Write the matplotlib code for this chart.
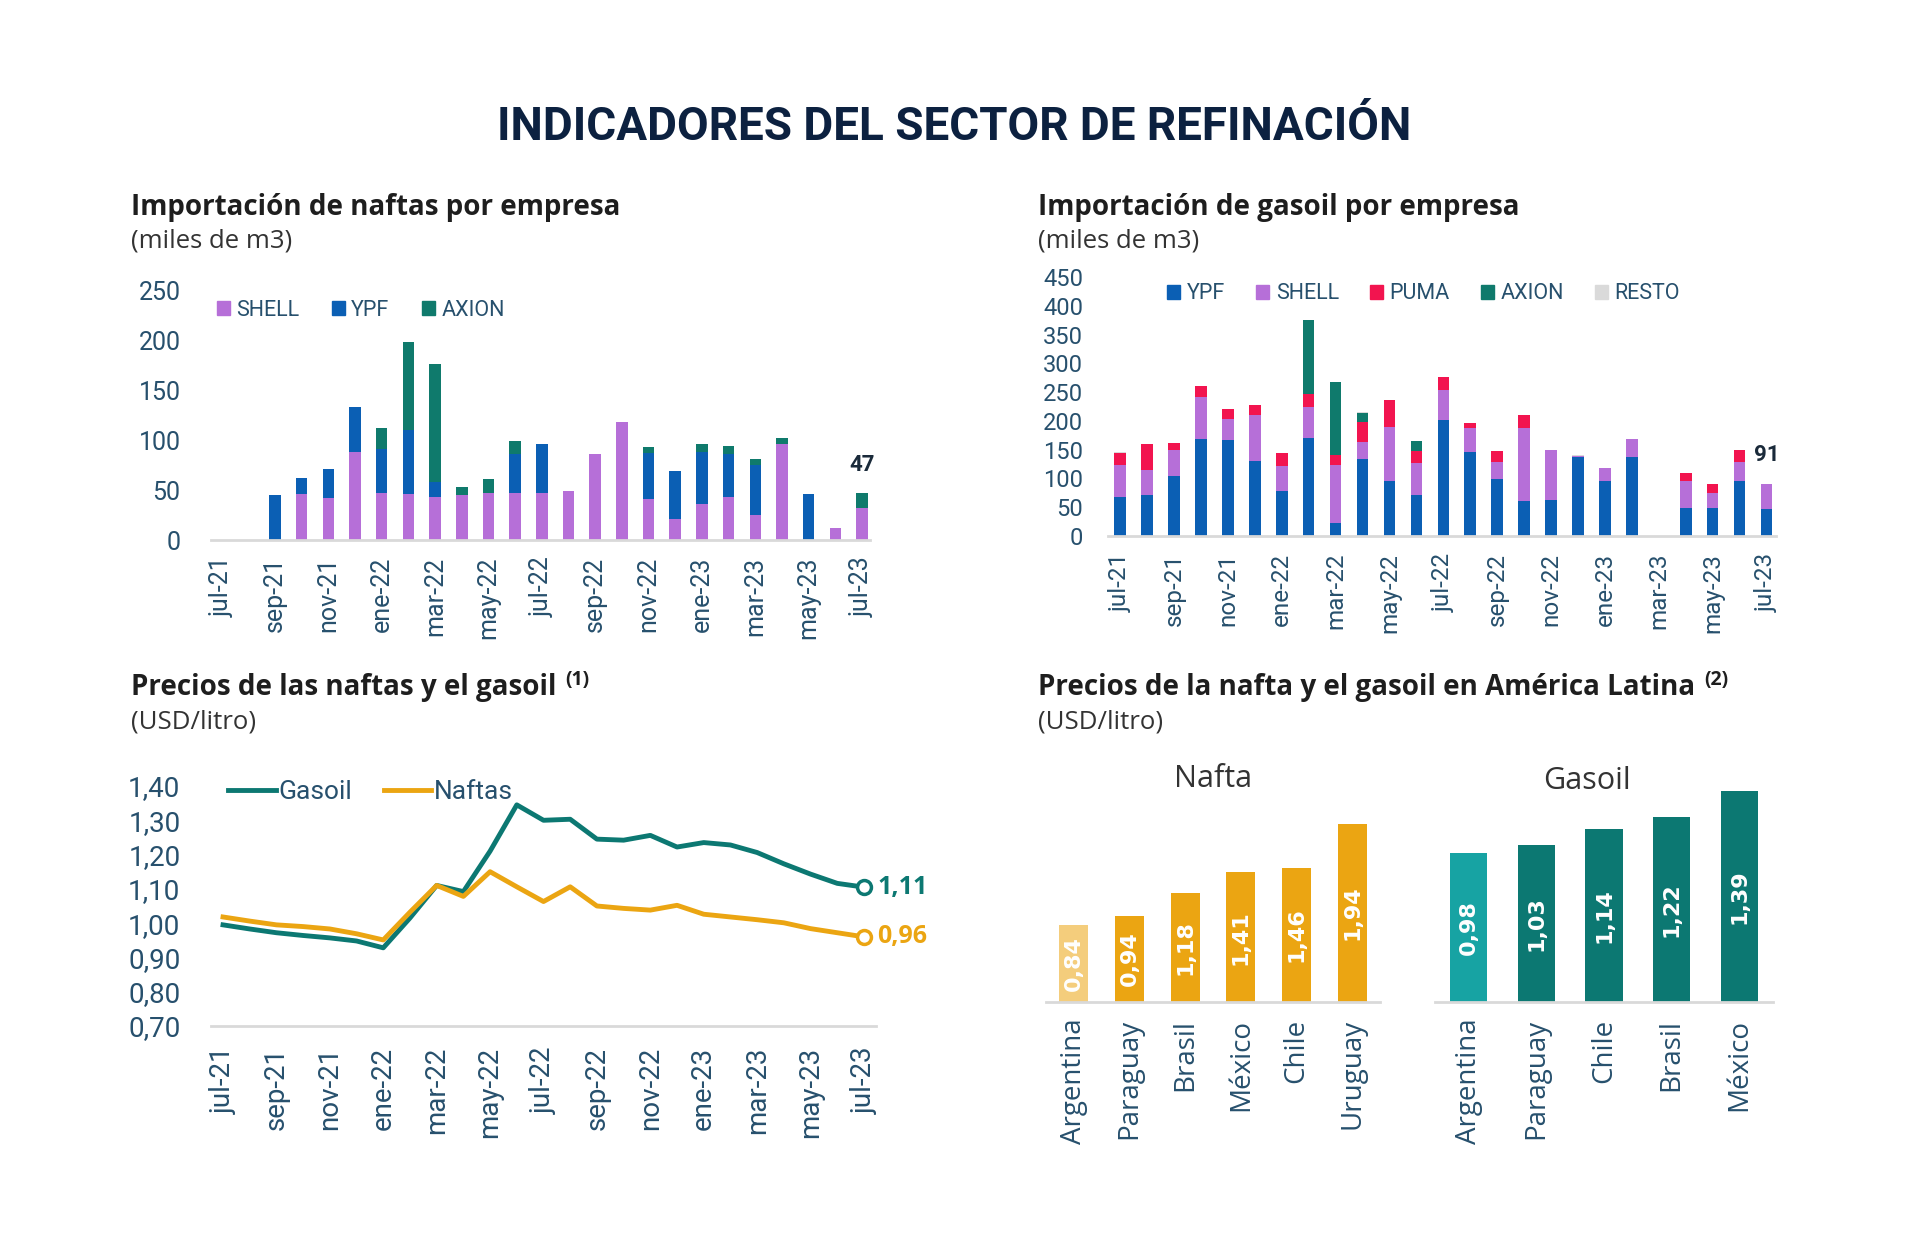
import matplotlib
matplotlib.use("Agg")
import matplotlib.pyplot as plt
from matplotlib.lines import Line2D
from matplotlib.patches import Patch
import numpy as np

# ---------------------------------------------------------------------------
# Datos
# ---------------------------------------------------------------------------
meses = ['jul-21', 'ago-21', 'sep-21', 'oct-21', 'nov-21', 'dic-21', 'ene-22',
         'feb-22', 'mar-22', 'abr-22', 'may-22', 'jun-22', 'jul-22', 'ago-22',
         'sep-22', 'oct-22', 'nov-22', 'dic-22', 'ene-23', 'feb-23', 'mar-23',
         'abr-23', 'may-23', 'jun-23', 'jul-23']

# Importacion de naftas (miles de m3)
naf_shell = [0, 0, 0, 46, 42, 88, 47, 46, 43, 45, 47, 47, 47, 49, 86, 118,
             41, 21, 36, 43, 25, 96, 0, 12, 32]
naf_ypf = [0, 0, 45, 16, 29, 45, 44, 64, 15, 0, 0, 39, 49, 0, 0, 0,
           46, 48, 52, 43, 50, 0, 46, 0, 0]
naf_axion = [0, 0, 0, 0, 0, 0, 21, 88, 118, 8, 14, 13, 0, 0, 0, 0,
             6, 0, 8, 8, 6, 6, 0, 0, 15]

# Importacion de gasoil (miles de m3)
gas_ypf = [67, 72, 105, 169, 167, 131, 78, 170, 23, 134, 95, 72, 201, 146,
           99, 60, 62, 138, 95, 137, 0, 48, 48, 95, 47]
gas_shell = [57, 42, 44, 73, 37, 80, 43, 54, 101, 29, 94, 54, 52, 41, 29,
             128, 87, 1, 23, 31, 0, 47, 27, 34, 44]
gas_puma = [20, 46, 13, 19, 16, 17, 23, 22, 16, 35, 47, 21, 24, 9, 19, 23,
            0, 0, 0, 0, 0, 15, 15, 21, 0]
gas_axion = [0, 0, 0, 0, 0, 0, 0, 130, 127, 16, 0, 18, 0, 0, 0, 0,
             0, 0, 0, 0, 0, 0, 0, 0, 0]
gas_resto = [2, 0, 0, 0, 0, 0, 0, 0, 0, 2, 0, 0, 0, 0, 0, 0,
             1, 1, 0, 0, 0, 0, 0, 0, 0]

# Precios (USD/litro)
precio_gasoil = [0.995, 0.983, 0.972, 0.964, 0.957, 0.948, 0.928, 1.015, 1.11,
                 1.092, 1.21, 1.345, 1.30, 1.303, 1.245, 1.242, 1.256, 1.222,
                 1.235, 1.228, 1.206, 1.173, 1.143, 1.116, 1.105]
precio_naftas = [1.018, 1.006, 0.995, 0.99, 0.983, 0.969, 0.951, 1.032, 1.11,
                 1.078, 1.15, 1.106, 1.063, 1.106, 1.05, 1.043, 1.038, 1.052,
                 1.026, 1.018, 1.01, 1.001, 0.984, 0.972, 0.96]

# America Latina
paises_nafta = ['Argentina', 'Paraguay', 'Brasil', 'México', 'Chile', 'Uruguay']
valores_nafta = [0.84, 0.94, 1.18, 1.41, 1.46, 1.94]
paises_gasoil = ['Argentina', 'Paraguay', 'Chile', 'Brasil', 'México']
valores_gasoil = [0.98, 1.03, 1.14, 1.22, 1.39]

# ---------------------------------------------------------------------------
# Estilo
# ---------------------------------------------------------------------------
C_SHELL = '#B66FD8'
C_YPF = '#0B5FB4'
C_AXION = '#0F7A6C'
C_PUMA = '#F2144F'
C_RESTO = '#DADADA'
C_GAS = '#0C7872'
C_NAF = '#EBA512'
C_TICK = '#27506D'
C_TITLE = '#0C2140'
C_GRID = '#D9D9D9'

FONT = ['Open Sans', 'DejaVu Sans']
ROB = ['Roboto', 'DejaVu Sans']
plt.rcParams['font.family'] = FONT

W, H = 1920, 1240
fig = plt.figure(figsize=(W / 100, H / 100), dpi=100)
fig.patch.set_facecolor('white')


def add_ax(left, top, right, bottom):
    # caja en pixeles -> fraccion de figura
    return fig.add_axes([left / W, 1 - bottom / H, (right - left) / W, (bottom - top) / H])


def clean(ax):
    for s in ['top', 'right', 'left']:
        ax.spines[s].set_visible(False)
    ax.spines['bottom'].set_color(C_GRID)
    ax.spines['bottom'].set_linewidth(2)
    ax.tick_params(axis='both', length=0, colors=C_TICK)


def month_ticks(ax, pad, size):
    idx = np.arange(len(meses))
    ax.set_xticks(idx[::2])
    ax.set_xticklabels([meses[i] for i in idx[::2]], rotation=90, fontsize=size,
                       color=C_TICK, family=ROB)
    ax.tick_params(axis='x', pad=pad)


x = np.arange(len(meses))

# Titulo general
fig.text(0.497, 1 - 127 / H, 'INDICADORES DEL SECTOR DE REFINACIÓN', ha='center', va='center',
         fontsize=33, fontweight='bold', color=C_TITLE, family=ROB)

# Titulos de paneles
panel_titles = [(131, 208, 241, 'Importación de naftas por empresa', '(miles de m3)', None),
                (1038, 208, 241, 'Importación de gasoil por empresa', '(miles de m3)', None),
                (131, 687, 722, 'Precios de las naftas y el gasoil', '(USD/litro)', '(1)'),
                (1038, 687, 722, 'Precios de la nafta y el gasoil en América Latina', '(USD/litro)', '(2)')]
renderer = fig.canvas.get_renderer()
for px, py, py2, t, sub, sup in panel_titles:
    tt = fig.text(px / W, 1 - py / H, t, ha='left', va='center', fontsize=20,
                  fontweight='bold', color='#1E1E1E')
    fig.text(px / W, 1 - py2 / H, sub, ha='left', va='center', fontsize=18.5, color='#333333')
    if sup:
        bb = tt.get_window_extent(renderer)
        fig.text((bb.x1 + 9) / W, (bb.y1 + 2) / H, sup, ha='left', va='top', fontsize=14,
                 fontweight='bold', color='#1E1E1E')

# ---------------------------------------------------------------------------
# 1) Importacion de naftas
# ---------------------------------------------------------------------------
ax1 = add_ax(211, 290, 870, 540)
bw = 0.43
b1 = np.array(naf_shell)
b2 = b1 + np.array(naf_ypf)
ax1.bar(x, naf_shell, width=bw, color=C_SHELL, label='SHELL')
ax1.bar(x, naf_ypf, width=bw, bottom=b1, color=C_YPF, label='YPF')
ax1.bar(x, naf_axion, width=bw, bottom=b2, color=C_AXION, label='AXION')
ax1.set_ylim(0, 250)
ax1.set_xlim(-0.4, 24.3)
ax1.set_yticks([0, 50, 100, 150, 200, 250])
ax1.set_yticklabels(['0', '50', '100', '150', '200', '250'], fontsize=18, family=ROB)
clean(ax1)
ax1.tick_params(axis='y', pad=22)
month_ticks(ax1, 12, 18)
tot1 = b2 + np.array(naf_axion)
ax1.text(x[-1], tot1[-1] + 17, f'{tot1[-1]:.0f}', ha='center', va='bottom', fontsize=16,
         fontweight='bold', color='#1A2A3A', family=ROB)
ax1.legend(handles=[Patch(color=C_SHELL, label='SHELL'), Patch(color=C_YPF, label='YPF'),
                    Patch(color=C_AXION, label='AXION')],
           loc='center left', bbox_to_anchor=(-0.02, 0.92), ncol=3, frameon=False,
           handlelength=0.6, handleheight=0.6, handletextpad=0.3,
           columnspacing=1.5, labelcolor=C_TICK,
           prop={'family': ROB, 'size': 15.5})

# ---------------------------------------------------------------------------
# 2) Importacion de gasoil
# ---------------------------------------------------------------------------
ax2 = add_ax(1108, 277, 1776, 536)
g1 = np.array(gas_ypf)
g2 = g1 + np.array(gas_shell)
g3 = g2 + np.array(gas_puma)
g4 = g3 + np.array(gas_axion)
ax2.bar(x, gas_ypf, width=bw, color=C_YPF)
ax2.bar(x, gas_shell, width=bw, bottom=g1, color=C_SHELL)
ax2.bar(x, gas_puma, width=bw, bottom=g2, color=C_PUMA)
ax2.bar(x, gas_axion, width=bw, bottom=g3, color=C_AXION)
ax2.bar(x, gas_resto, width=bw, bottom=g4, color=C_RESTO)
ax2.set_ylim(0, 450)
ax2.set_xlim(-0.45, 24.35)
yt = list(range(0, 451, 50))
ax2.set_yticks(yt)
ax2.set_yticklabels([str(v) for v in yt], fontsize=17, family=ROB)
clean(ax2)
ax2.tick_params(axis='y', pad=18)
month_ticks(ax2, 12, 17.5)
tot2 = g4 + np.array(gas_resto)
ax2.text(x[-1], 140, f'{tot2[-1]:.0f}', ha='center', va='center', fontsize=16,
         fontweight='bold', color='#1A2A3A', family=ROB)
ax2.legend(handles=[Patch(color=C_YPF, label='YPF'), Patch(color=C_SHELL, label='SHELL'),
                    Patch(color=C_PUMA, label='PUMA'), Patch(color=C_AXION, label='AXION'),
                    Patch(color=C_RESTO, label='RESTO')],
           loc='center left', bbox_to_anchor=(0.06, 0.935), ncol=5, frameon=False,
           handlelength=0.6, handleheight=0.6, handletextpad=0.3,
           columnspacing=1.45, labelcolor=C_TICK,
           prop={'family': ROB, 'size': 15.5})

# ---------------------------------------------------------------------------
# 3) Precios de naftas y gasoil
# ---------------------------------------------------------------------------
ax3 = add_ax(211, 786, 876, 1026)
ax3.plot(x, precio_gasoil, color=C_GAS, lw=3.5, solid_joinstyle='round')
ax3.plot(x, precio_naftas, color=C_NAF, lw=3.5, solid_joinstyle='round')
ax3.plot(x[-1], precio_gasoil[-1], 'o', ms=10, mfc='white', mec=C_GAS, mew=2.5)
ax3.plot(x[-1], precio_naftas[-1], 'o', ms=10, mfc='white', mec=C_NAF, mew=2.5)
ax3.text(x[-1] + 0.5, precio_gasoil[-1], '1,11', ha='left', va='center', fontsize=18,
         fontweight='bold', color=C_GAS)
ax3.text(x[-1] + 0.5, precio_naftas[-1], '0,96', ha='left', va='center', fontsize=18,
         fontweight='bold', color=C_NAF)
ax3.set_ylim(0.70, 1.40)
ax3.set_xlim(-0.45, 24.45)
yt3 = np.arange(0.70, 1.401, 0.10)
ax3.set_yticks(yt3)
ax3.set_yticklabels([f'{v:.2f}'.replace('.', ',') for v in yt3], fontsize=20, family=ROB)
clean(ax3)
ax3.tick_params(axis='y', pad=22)
month_ticks(ax3, 15, 20)
ax3.legend(handles=[Line2D([], [], color=C_GAS, lw=3.5, label='Gasoil'),
                    Line2D([], [], color=C_NAF, lw=3.5, label='Naftas')],
           loc='center left', bbox_to_anchor=(-0.01, 0.975), ncol=2, frameon=False,
           handlelength=1.8, handletextpad=0.1, columnspacing=1.2, labelcolor=C_TICK,
           prop={'family': ROB, 'size': 19})

# ---------------------------------------------------------------------------
# 4) America Latina
# ---------------------------------------------------------------------------
def latam(ax, paises, valores, colores, titulo, ymax, width, tx):
    xi = np.arange(len(paises))
    ax.bar(xi, valores, width=width, color=colores)
    ax.set_ylim(0, ymax)
    ax.set_xlim(-0.5, len(paises) - 0.5)
    clean(ax)
    ax.set_yticks([])
    ax.set_xticks(xi)
    ax.set_xticklabels(paises, rotation=90, fontsize=20, color=C_TICK)
    ax.tick_params(axis='x', pad=12)
    for xx, v in zip(xi, valores):
        ax.text(xx, v / 2, f'{v:.2f}'.replace('.', ','), rotation=90, ha='center', va='center',
                fontsize=16, fontweight='bold', color='white', family=['DejaVu Sans'])
    ax.text(tx, 0.97, titulo, transform=ax.transAxes,
            ha='center', va='center', fontsize=22, color='#333333')


ax4 = add_ax(1046, 772, 1380, 1002)
latam(ax4, paises_nafta, valores_nafta, ['#F4CD7C'] + [C_NAF] * 5, 'Nafta', 2.5, 0.52, 0.5)
ax5 = add_ax(1435, 774, 1773, 1002)
latam(ax5, paises_gasoil, valores_gasoil, ['#17A3A3'] + [C_GAS] * 4, 'Gasoil', 1.5, 0.55, 0.45)

fig.savefig('out.png', dpi=100, facecolor='white')
